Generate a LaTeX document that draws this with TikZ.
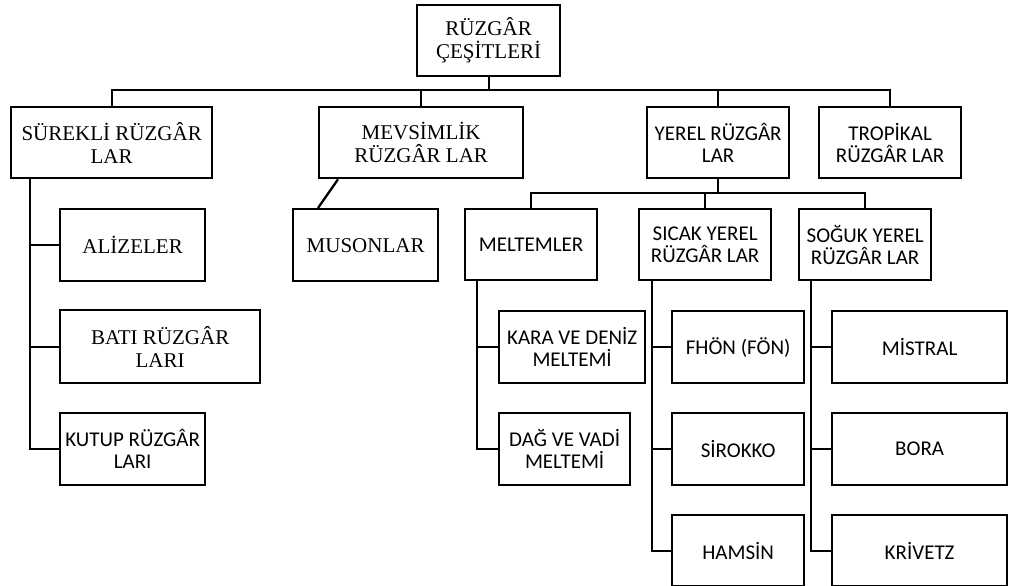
\documentclass[tikz,border=0pt]{standalone}
\usepackage{fontspec}
\setmainfont{Liberation Serif}
\newfontfamily\carl{Carlito}
\usetikzlibrary{calc}
\tikzset{
  box/.style={draw, line width=2.3pt, anchor=north west, align=center, inner sep=0pt},
  serifbox/.style={box, font=\fontsize{21}{23}\selectfont},
  sansbox/.style={box, font=\carl\fontsize{21}{22}\selectfont},
  link/.style={line width=2.3pt}
}
\newcommand{\bx}[6]{\node[#1, minimum width={#4-#2}, minimum height={#5-#3}] (#6) at (#2,#3)}
\begin{document}
\begin{tikzpicture}[x=1pt,y=-1pt]
\useasboundingbox (0,0) rectangle (1010,586);
\bx{serifbox}{416}{4}{559}{75}{root} {RÜZGÂR\\ÇEŞİTLERİ};
\bx{serifbox}{10}{106}{211}{177}{s1} {SÜREKLİ RÜZGÂR\\LAR};
\bx{serifbox}{318}{106}{522}{177}{s2} {MEVSİMLİK\\RÜZGÂR LAR};
\bx{sansbox}{646}{106}{788}{177}{s3} {YEREL RÜZGÂR\\LAR};
\bx{sansbox}{818}{106}{960}{177}{s4} {TROPİKAL\\RÜZGÂR LAR};
\bx{serifbox}{59}{208}{204}{280}{aliz} {ALİZELER};
\bx{serifbox}{59}{309}{259}{382}{bati} {BATI RÜZGÂR\\LARI};
\bx{sansbox}{59}{412}{204}{484}{kutup} {KUTUP RÜZGÂR\\LARI};
\bx{serifbox}{292}{208}{437}{280}{mus} {MUSONLAR};
\bx{sansbox}{464}{208}{596}{279}{melt} {MELTEMLER};
\bx{sansbox}{638}{208}{770}{279}{sicak} {SICAK YEREL\\RÜZGÂR LAR};
\bx{sansbox}{798}{208}{930}{279}{soguk} {SOĞUK YEREL\\RÜZGÂR LAR};
\bx{sansbox}{498}{310}{644}{382}{kara} {KARA VE DENİZ\\MELTEMİ};
\bx{sansbox}{498}{412}{629}{484}{dag} {DAĞ VE VADİ\\MELTEMİ};
\bx{sansbox}{671}{310}{803}{382}{fhon} {FHÖN (FÖN)};
\bx{sansbox}{671}{412}{803}{484}{sir} {SİROKKO};
\bx{sansbox}{671}{514}{803}{585}{ham} {HAMSİN};
\bx{sansbox}{831}{310}{1006}{382}{mis} {MİSTRAL};
\bx{sansbox}{831}{412}{1006}{484}{bora} {BORA};
\bx{sansbox}{831}{514}{1006}{585}{kriv} {KRİVETZ};
% buses
\coordinate (bus1) at (0,90);
\coordinate (bus2) at (0,193);
\coordinate (r1) at (30,0);
\coordinate (r2) at (477,0);
\coordinate (r3) at (652,0);
\coordinate (r4) at (811,0);
\draw[link] (root.south) -- (root.south |- bus1);
\draw[link] (s1.north) -- (s1.north |- bus1) -- (s4.north |- bus1) -- (s4.north);
\draw[link] (s2.north) -- (s2.north |- bus1);
\draw[link] (s3.north) -- (s3.north |- bus1);
\draw[link] (s3.south) -- (s3.south |- bus2);
\draw[link] (melt.north) -- (melt.north |- bus2) -- (soguk.north |- bus2) -- (soguk.north);
\draw[link] (sicak.north) -- (sicak.north |- bus2);
% left rail
\draw[link] (r1 |- s1.south) -- (r1 |- kutup.west) -- (kutup.west);
\draw[link] (r1 |- aliz.west) -- (aliz.west);
\draw[link] (r1 |- bati.west) -- (bati.west);
% musonlar
\draw[link] ($(s2.south west)+(20,0)$) -- ($(mus.north west)+(26,0)$);
% meltemler rail
\draw[link] (r2 |- melt.south) -- (r2 |- dag.west) -- (dag.west);
\draw[link] (r2 |- kara.west) -- (kara.west);
% sicak rail
\draw[link] (r3 |- sicak.south) -- (r3 |- ham.west) -- (ham.west);
\draw[link] (r3 |- fhon.west) -- (fhon.west);
\draw[link] (r3 |- sir.west) -- (sir.west);
% soguk rail
\draw[link] (r4 |- soguk.south) -- (r4 |- kriv.west) -- (kriv.west);
\draw[link] (r4 |- mis.west) -- (mis.west);
\draw[link] (r4 |- bora.west) -- (bora.west);
\end{tikzpicture}
\end{document}
